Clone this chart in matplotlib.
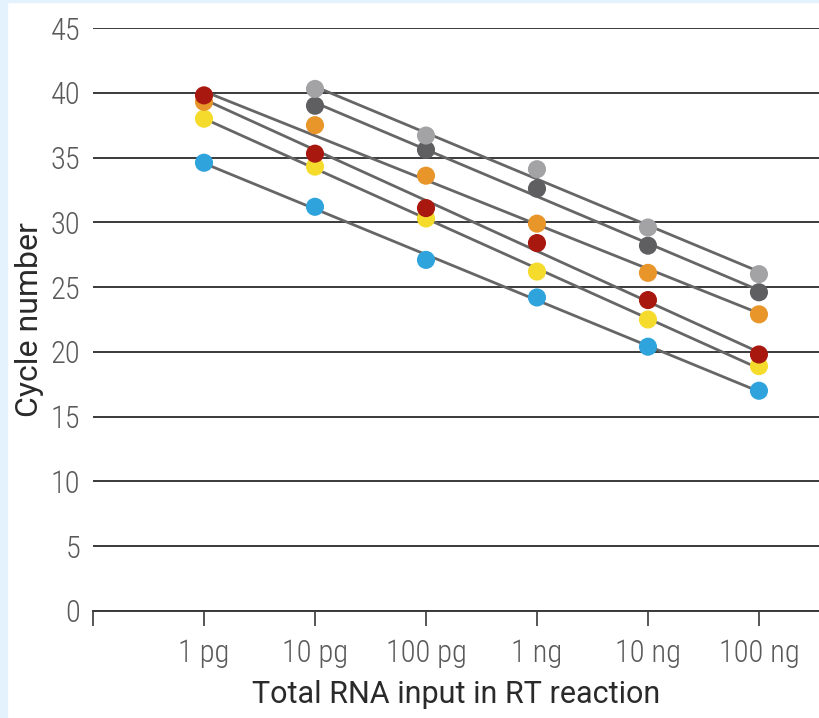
import matplotlib
matplotlib.use("Agg")
import matplotlib.pyplot as plt
import numpy as np
from matplotlib.patches import Rectangle

plt.rcParams.update({
    "font.family": ["Roboto Condensed", "DejaVu Sans Condensed", "Roboto", "DejaVu Sans"],
})

# RNA input categories (x positions 1..6)
inputs = ["1 pg", "10 pg", "100 pg", "1 ng", "10 ng", "100 ng"]

# Ct values per series; None = no measurement
light_gray = [None, 40.3, 36.7, 34.1, 29.6, 26.0]
dark_gray = [None, 39.0, 35.6, 32.6, 28.2, 24.6]
orange = [39.3, 37.5, 33.6, 29.9, 26.1, 22.9]
red = [39.8, 35.3, 31.1, 28.4, 24.0, 19.8]
yellow = [38.0, 34.3, 30.3, 26.2, 22.5, 18.9]
blue = [34.6, 31.2, 27.1, 24.2, 20.4, 17.0]

series = [
    (blue, "#2fa3dc"),
    (yellow, "#f5dc2c"),
    (orange, "#e8952a"),
    (red, "#a8180f"),
    (dark_gray, "#5f5f62"),
    (light_gray, "#a3a3a5"),
]

fig = plt.figure(figsize=(8.2, 7.18), dpi=100)
fig.patches.append(Rectangle((0, 0), 7 / 820, 1, transform=fig.transFigure,
                             color="#e3f2fd", zorder=0))
fig.patches.append(Rectangle((0, 1 - 2 / 718), 1, 2 / 718, transform=fig.transFigure,
                             color="#e3f2fd", zorder=0))

ax = fig.add_axes([93 / 820, 107 / 718, 727 / 820, 583 / 718])

# regression lines first, then dots on top
for vals, color in series:
    x = np.array([i + 1 for i, v in enumerate(vals) if v is not None])
    y = np.array([v for v in vals if v is not None])
    k, b = np.polyfit(x, y, 1)
    xs = np.array([x.min(), x.max()])
    ax.plot(xs, k * xs + b, color="#666666", linewidth=2, zorder=3)

for vals, color in series:
    x = [i + 1 for i, v in enumerate(vals) if v is not None]
    y = [v for v in vals if v is not None]
    ax.scatter(x, y, s=170, color=color, edgecolors="none", zorder=4, clip_on=False)

ax.set_xlim(0, 6.55)
ax.set_ylim(0, 45)
ax.set_yticks(range(0, 46, 5))
ax.set_xticks(range(0, 7))
ax.set_xticklabels([""] + inputs)
ax.yaxis.grid(True, color="#3a3a3a", linewidth=1.4)
ax.set_axisbelow(True)
for s in ["top", "right", "left"]:
    ax.spines[s].set_visible(False)
ax.spines["bottom"].set_color("#3a3a3a")
ax.spines["bottom"].set_linewidth(1.4)
ax.tick_params(axis="y", length=0, pad=9, labelsize=22, labelcolor="#5a5a5a")
ax.tick_params(axis="x", direction="out", length=11, width=1.2, color="#3a3a3a",
               pad=9, labelsize=22, labelcolor="#5a5a5a")
for lab in ax.get_xticklabels() + ax.get_yticklabels():
    lab.set_fontweight("light")

ax.set_ylabel("Cycle number", fontsize=23, color="#2a2a2a", labelpad=5,
              fontfamily=["Roboto", "DejaVu Sans"])
ax.set_xlabel("Total RNA input in RT reaction", fontsize=22, color="#2a2a2a", labelpad=9,
              fontfamily=["Roboto", "DejaVu Sans"])

fig.savefig("out.png", dpi=100)
